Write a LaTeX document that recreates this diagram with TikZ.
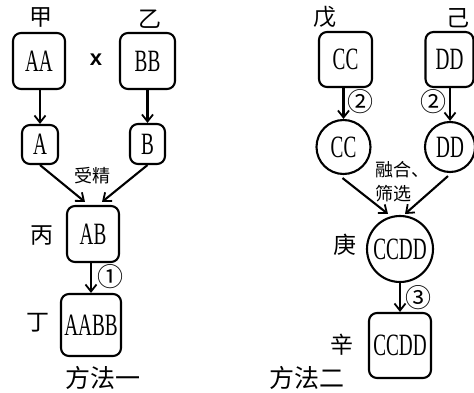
\documentclass[tikz,border=0pt]{standalone}
\usepackage{fontspec}
\setmainfont{Liberation Serif}
\newfontfamily\cjk{Noto Sans CJK SC}
\newfontfamily\lat[FakeStretch=0.62]{Liberation Serif}
\newfontfamily\sansb{Liberation Sans}
\usetikzlibrary{arrows.meta}
\begin{document}
\begin{tikzpicture}[x=1pt,y=-1pt,
  box/.style={draw,line width=2.1pt,rounded corners=8pt,inner sep=0pt,font=\lat\fontsize{31}{31}\selectfont},
  cell/.style={draw,circle,line width=2.1pt,inner sep=0pt,font=\lat\fontsize{31}{31}\selectfont},
  lab/.style={inner sep=0pt,font=\cjk\fontsize{23}{23}\selectfont},
  small/.style={inner sep=0pt,font=\cjk\fontsize{18}{18}\selectfont},
  num/.style={inner sep=0pt,font=\cjk\fontsize{26}{26}\selectfont},
  arr/.style={line width=2.1pt,-{Straight Barb[length=7pt,width=11pt,line width=1.8pt]}}]
\useasboundingbox (0,0) rectangle (474,393);
% method one
\node[box,minimum width=52pt,minimum height=56pt] (AA) at (39,61) {AA};
\node[box,minimum width=55pt,minimum height=56pt] (BB) at (147.5,61) {BB};
\node[box,minimum width=36pt,minimum height=39pt] (A) at (40,144.5) {A};
\node[box,minimum width=35pt,minimum height=40pt] (B) at (147.5,144) {B};
\node[box,minimum width=52pt,minimum height=56pt] (AB) at (93,234) {AB};
\node[box,minimum width=60pt,minimum height=62pt] (AABB) at (91,325) {AABB};
\node[inner sep=0pt,font=\sansb\bfseries\fontsize{22}{22}\selectfont] (x) at (96,60) {x};
\node[lab] (jia) at (41,17) {甲};
\node[lab] (yi) at (150,19) {乙};
\node[lab] (bing) at (42,236) {丙};
\node[lab] (ding) at (38,323) {丁};
\node[small] (sj) at (92,176) {受精};
\node[num] (n1) at (110,277) {①};
\node[inner sep=0pt,font=\cjk\fontsize{25}{25}\selectfont] (m1) at (103,378) {方法一};
\draw[arr] (A.north |- AA.south) -- (A.north);
\draw[arr] (B.north |- BB.south) -- (B.north);
\draw[arr] (A.south) -- ([xshift=-8pt,yshift=3pt]AB.north);
\draw[arr] (B.south) -- ([xshift=9pt,yshift=3pt]AB.north);
\draw[arr] (AABB.north |- AB.south) -- (AABB.north);
% method two
\node[box,minimum width=53pt,minimum height=55pt] (CCb) at (345.5,59.5) {CC};
\node[box,minimum width=48pt,minimum height=55pt] (DDb) at (449.5,59.5) {DD};
\node[cell,minimum size=54pt] (CCc) at (343.5,147) {CC};
\node[cell,minimum size=50pt] (DDc) at (450,147) {DD};
\node[cell,minimum size=66pt] (CCDD) at (400,249) {CCDD};
\node[box,minimum width=62pt,minimum height=65pt] (S) at (400,345.5) {CCDD};
\node[lab] (wu) at (325,17) {戊};
\node[lab] (ji) at (458,18) {己};
\node[lab] (geng) at (345,245) {庚};
\node[lab] (xin) at (342,345) {辛};
\node[small,anchor=west] (rh) at (375,170) {融合、};
\node[small,anchor=west] (sx) at (375,194) {筛选};
\node[num] (n2a) at (360,102) {②};
\node[num] (n2b) at (433,102) {②};
\node[num] (n3) at (418,298) {③};
\node[inner sep=0pt,font=\cjk\fontsize{25}{25}\selectfont] (m2) at (307,378) {方法二};
\draw[arr] (CCc.north |- CCb.south) -- (CCc.north);
\draw[arr] (DDc.north |- DDb.south) -- (DDc.north);
\draw[arr] ([xshift=-1pt,yshift=-3pt]CCc.south) -- ([xshift=-12pt,yshift=1pt]CCDD.north);
\draw[arr] ([xshift=-2pt,yshift=-3pt]DDc.south) -- ([xshift=5pt,yshift=1pt]CCDD.north);
\draw[arr] (S.north |- CCDD.south) -- (S.north);
\end{tikzpicture}
\end{document}
